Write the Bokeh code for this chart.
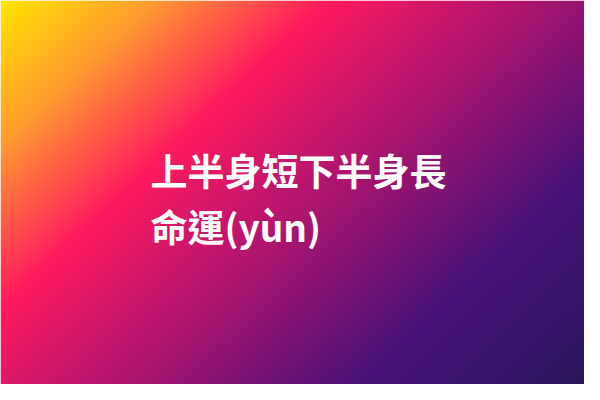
import numpy as np
from bokeh.plotting import figure
from bokeh.models import Range1d
from bokeh.core.properties import value
from bokeh.embed import file_html
from bokeh.resources import INLINE

# ---- content ----
title_lines = ["上半身短下半身長", "命運(yùn)"]

# ---- gradient colour stops (position along diagonal, hex colour) ----
stop_pos = [0.0, 0.15, 0.32, 0.45, 0.60, 0.75, 0.88, 1.0]
stop_col = ["#FFE600", "#FF9A30", "#FF1A5E", "#C8156C", "#8A1372", "#461277", "#36136A", "#22164C"]

W, H = 584, 384      # figure size (page has 8px margin)
FULL_W, FULL_H = 600, 400

def hex2rgb(h):
    h = h.lstrip("#")
    return [int(h[i:i + 2], 16) for i in (0, 2, 4)]

rgb = np.array([hex2rgb(c) for c in stop_col], dtype=float)

xs = np.arange(W) + 0.5
ys = np.arange(H) + 0.5
X, Y = np.meshgrid(xs, ys)
t = (X + 1.06 * Y) / (FULL_W + 1.06 * FULL_H)
t = np.clip(t, 0, 1)

img = np.empty((H, W), dtype=np.uint32)
view = img.view(dtype=np.uint8).reshape((H, W, 4))
for k in range(3):
    chan = np.interp(t, stop_pos, rgb[:, k])
    view[:, :, k] = np.round(chan).astype(np.uint8)
view[:, :, 3] = 255
img = img[::-1]  # row 0 is the bottom of the plot

p = figure(width=W, height=H, output_backend="svg", toolbar_location=None,
           x_range=Range1d(0, W), y_range=Range1d(0, H),
           min_border=0)
p.axis.visible = False
p.grid.visible = False
p.outline_line_color = None
p.background_fill_color = None
p.border_fill_color = None

p.image_rgba(image=[img], x=0, y=0, dw=W, dh=H)

# text lines: left x and baseline, measured from the top-left
text_x = [150, 150]
text_baseline_y = [169, 225]
p.text(x=text_x,
       y=[H - ty for ty in text_baseline_y],
       text=title_lines,
       text_font=value("Noto Sans CJK TC"), text_font_style="bold",
       text_font_size="37px", text_color="white",
       text_align="left", text_baseline="alphabetic")

open("out.html", "w").write(file_html(p, INLINE))
